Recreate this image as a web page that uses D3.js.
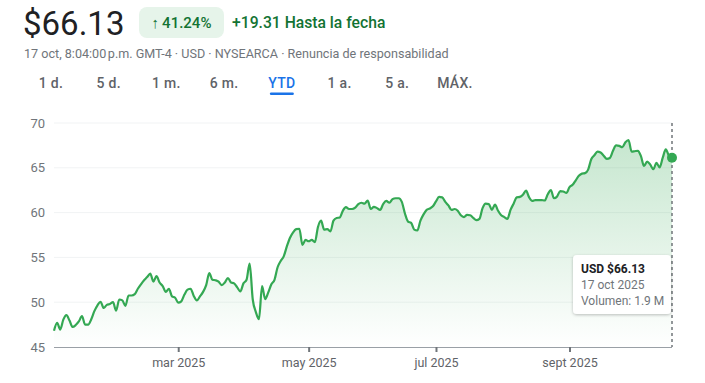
<!DOCTYPE html>
<html>
<head>
<meta charset="utf-8">
<script src="https://cdn.jsdelivr.net/npm/d3@7"></script>
<style>
  html, body { margin: 0; padding: 0; background: #fff; }
  svg { display: block; font-family: Roboto, Arial, sans-serif; }
</style>
</head>
<body>
<svg id="chart" width="705" height="383"></svg>
<script>
// YTD closes, one per trading day (31 dic 2024 previous close, then 2 ene .. 17 oct 2025)
const closes = [
  46.82, 47.7, 46.95, 48.05, 48.55, 47.95, 47.23, 47.45, 47.85, 48.45,
  47.5, 47.5, 48.1, 49.0, 49.65, 50.05, 49.35, 49.7, 49.8, 50.0,
  49.05, 50.3, 50.2, 49.6, 50.75, 50.75, 50.9, 51.5, 52.0, 52.45,
  52.8, 53.2, 52.3, 52.9, 52.2, 51.8, 51.15, 51.5, 50.65, 50.5,
  49.95, 50.1, 50.85, 51.4, 51.5, 50.7, 50.2, 50.65, 51.15, 51.9,
  53.25, 52.5, 52.45, 52.3, 51.9, 52.2, 52.7, 52.2, 52.1, 51.65,
  51.2, 52.1, 52.5, 54.3, 50.3, 48.9, 48.1, 51.8, 50.35, 51.1,
  52.0, 52.5, 53.9, 54.6, 55.15, 56.25, 57.2, 57.8, 58.15, 58.2,
  56.4, 56.95, 56.8, 56.95, 56.7, 58.4, 59.1, 58.1, 58.15, 57.9,
  59.1, 59.4, 59.45, 60.2, 60.6, 60.4, 60.4, 60.55, 60.95, 61.1,
  61.0, 61.35, 60.4, 60.65, 60.5, 60.3, 60.95, 61.3, 61.1, 61.5,
  61.6, 61.6, 61.2, 59.9, 59.0, 58.85, 58.1, 58.0, 59.1, 59.8,
  60.3, 60.45, 60.7, 61.25, 61.75, 61.7, 61.2, 60.8, 60.3, 60.4,
  60.2, 59.7, 59.5, 59.75, 59.7, 59.4, 59.15, 59.3, 60.5, 61.0,
  60.95, 60.3, 60.9, 60.2, 59.7, 59.5, 59.3, 60.3, 61.0, 61.7,
  61.75, 62.0, 62.45, 61.7, 61.3, 61.4, 61.4, 61.4, 61.35, 62.05,
  62.5, 61.6, 61.8, 62.4, 62.35, 62.2, 62.85, 63.1, 63.6, 64.1,
  64.35, 64.4, 64.8, 65.95, 66.4, 66.8, 66.7, 66.35, 66.0, 66.1,
  66.9, 67.5, 67.45, 67.3, 67.85, 68.1, 66.8, 66.85, 66.9, 66.3,
  65.2, 65.7, 65.35, 64.85, 65.55, 65.05, 66.1, 67.05, 66.35, 66.13
];
const marketHolidays = [
  "2025-01-01", "2025-01-09", "2025-01-20", "2025-02-17", "2025-04-18",
  "2025-05-26", "2025-06-19", "2025-07-04", "2025-09-01"
];
const yTicks = [45, 50, 55, 60, 65, 70];
const xTickMonths = [2, 4, 6, 8]; // mar, may, jul, sept (0-based)
const xTickLabels = ["mar 2025", "may 2025", "jul 2025", "sept 2025"];
const ranges = ["1 d.", "5 d.", "1 m.", "6 m.", "YTD", "1 a.", "5 a.", "MÁX."];
const activeRange = "YTD";

const price = "$66.13";
const changePct = "41.24%";
const changeAbs = "+19.31 Hasta la fecha";
const subline = "17 oct, 8:04:00\u202Fp.m. GMT-4 · USD · NYSEARCA · Renuncia de responsabilidad";
const tooltipLines = ["USD $66.13", "17 oct 2025", "Volumen: 1.9 M"];

// trading calendar: previous close + every weekday that is not a holiday
const fmt = d3.utcFormat("%Y-%m-%d");
const days = [new Date(Date.UTC(2024, 11, 31))];
for (let d = new Date(Date.UTC(2025, 0, 2)); days.length < closes.length; d = d3.utcDay.offset(d, 1)) {
  const wd = d.getUTCDay();
  if (wd === 0 || wd === 6 || marketHolidays.includes(fmt(d))) continue;
  days.push(d);
}
const data = closes.map((v, i) => ({ i, date: days[i], value: v }));
const tickIdx = xTickMonths.map((m) => data.find((p) => p.date.getUTCMonth() === m && p.date.getUTCFullYear() === 2025).i);

const GREEN = "#34a853";
const DARK_GREEN = "#137333";

const svg = d3.select("#chart");

// ---- header ----
svg.append("text")
  .attr("x", 23).attr("y", 35)
  .attr("font-size", 33).attr("fill", "#202124")
  .text(price);

svg.append("rect")
  .attr("x", 139).attr("y", 7).attr("width", 85).attr("height", 31).attr("rx", 8)
  .attr("fill", "#e6f4ea");
svg.append("text")
  .attr("x", 181.5).attr("y", 28).attr("text-anchor", "middle")
  .attr("font-size", 15).attr("font-weight", 500).attr("fill", DARK_GREEN)
  .text("\u2191\u2009" + changePct);
svg.append("text")
  .attr("x", 232).attr("y", 28)
  .attr("font-size", 15.7).attr("font-weight", 500).attr("fill", DARK_GREEN)
  .text(changeAbs);

svg.append("text")
  .attr("x", 24).attr("y", 58)
  .attr("font-size", 12.6).attr("fill", "#70757a")
  .text(subline);

// ---- range tabs ----
const tabX = d3.scalePoint().domain(ranges).range([51, 455]);
const tabs = svg.append("g");
tabs.selectAll("text")
  .data(ranges)
  .join("text")
  .attr("x", (r) => tabX(r))
  .attr("y", 88)
  .attr("text-anchor", "middle")
  .attr("font-size", 14)
  .attr("font-weight", 500)
  .attr("letter-spacing", 0.3)
  .attr("fill", (r) => (r === activeRange ? "#1a73e8" : "#5f6368"))
  .text((r) => r);
tabs.append("rect")
  .attr("x", tabX(activeRange) - 12).attr("y", 92.5)
  .attr("width", 24).attr("height", 2.5).attr("rx", 1.25)
  .attr("fill", "#1a73e8");

// ---- chart ----
const margin = { top: 123, right: 33, bottom: 36, left: 54 };
const width = 705 - margin.left - margin.right;
const height = 383 - margin.top - margin.bottom;
const g = svg.append("g").attr("transform", `translate(${margin.left},${margin.top})`);

const x = d3.scaleLinear().domain([0, data.length - 1]).range([0, width]);
const y = d3.scaleLinear().domain([45, 70]).range([height, 0]);

g.append("g")
  .selectAll("line")
  .data(yTicks.slice(1))
  .join("line")
  .attr("x1", 0).attr("x2", width)
  .attr("y1", (t) => y(t)).attr("y2", (t) => y(t))
  .attr("stroke", "#f1f3f4").attr("stroke-width", 1);

const yAxis = g.append("g")
  .call(d3.axisLeft(y).tickValues(yTicks).tickSize(0).tickPadding(9));
yAxis.select(".domain").remove();
yAxis.selectAll("text")
  .attr("font-family", "Roboto, Arial, sans-serif")
  .attr("font-size", 13).attr("fill", "#70757a");

const defs = svg.append("defs");
const grad = defs.append("linearGradient")
  .attr("id", "areaFill")
  .attr("gradientUnits", "userSpaceOnUse")
  .attr("x1", 0).attr("x2", 0)
  .attr("y1", y(d3.max(closes))).attr("y2", height);
grad.append("stop").attr("offset", 0).attr("stop-color", GREEN).attr("stop-opacity", 0.28);
grad.append("stop").attr("offset", 1).attr("stop-color", GREEN).attr("stop-opacity", 0.0);

const curve = d3.curveMonotoneX;
g.append("path")
  .datum(data)
  .attr("fill", "url(#areaFill)")
  .attr("d", d3.area().curve(curve).x((d) => x(d.i)).y0(height).y1((d) => y(d.value)));

const xAxis = g.append("g")
  .attr("transform", `translate(0,${height})`)
  .call(d3.axisBottom(x).tickValues(tickIdx).tickSize(5).tickPadding(6)
    .tickFormat((d, k) => xTickLabels[k]));
xAxis.select(".domain").attr("stroke", "#9aa0a6").attr("d", `M0,0.5H${width}`);
xAxis.selectAll(".tick line").attr("stroke", "#70757a").attr("stroke-width", 2);
xAxis.selectAll("text")
  .attr("font-family", "Roboto, Arial, sans-serif")
  .attr("font-size", 12.5).attr("fill", "#5f6368");

g.append("path")
  .datum(data)
  .attr("fill", "none")
  .attr("stroke", GREEN)
  .attr("stroke-width", 2.2)
  .attr("stroke-linejoin", "round")
  .attr("d", d3.line().curve(curve).x((d) => x(d.i)).y((d) => y(d.value)));

// hover marker on the last point
const last = data[data.length - 1];
g.append("line")
  .attr("x1", x(last.i)).attr("x2", x(last.i))
  .attr("y1", 0).attr("y2", height)
  .attr("stroke", "#70757a").attr("stroke-width", 1.5)
  .attr("stroke-dasharray", "3,3");
g.append("circle")
  .attr("cx", x(last.i)).attr("cy", y(last.value)).attr("r", 5)
  .attr("fill", GREEN);

// tooltip
const tipFilter = defs.append("filter").attr("id", "tipShadow")
  .attr("x", -0.2).attr("y", -0.2).attr("width", 1.4).attr("height", 1.5);
tipFilter.append("feDropShadow")
  .attr("dx", 0).attr("dy", 1).attr("stdDeviation", 1.5)
  .attr("flood-color", "#000").attr("flood-opacity", 0.25);

const tip = svg.append("g").attr("transform", "translate(573,255)");
tip.append("rect")
  .attr("width", 98).attr("height", 59).attr("rx", 4)
  .attr("fill", "#fff").attr("filter", "url(#tipShadow)");
tip.selectAll("text")
  .data(tooltipLines)
  .join("text")
  .attr("x", 8)
  .attr("y", (d, k) => 18 + k * 16)
  .attr("font-size", 12)
  .attr("font-weight", (d, k) => (k === 0 ? 700 : 400))
  .attr("fill", (d, k) => (k === 0 ? "#202124" : "#70757a"))
  .text((d) => d);
</script>
</body>
</html>
